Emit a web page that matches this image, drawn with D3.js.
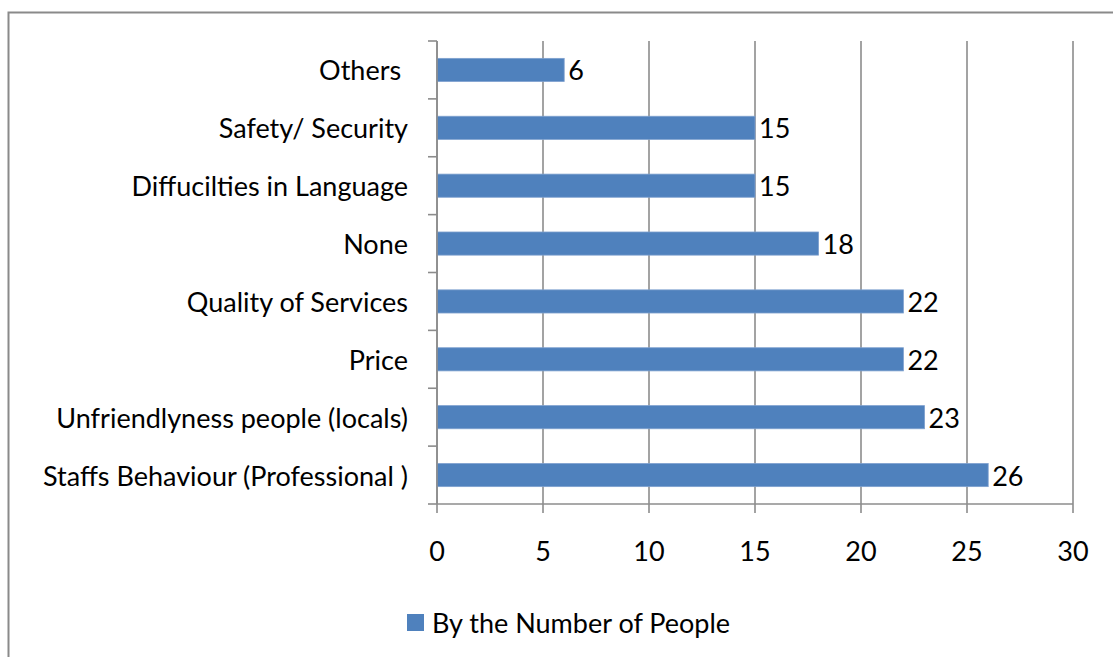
<!DOCTYPE html>
<html>
<head>
<meta charset="utf-8">
<script src="https://cdn.jsdelivr.net/npm/d3@7"></script>
<style>
  html, body { margin: 0; padding: 0; background: #fff; }
  svg { display: block; }
  text { font-family: Lato, "Open Sans", sans-serif; fill: #000; }
</style>
</head>
<body>
<svg id="chart" width="1113" height="657"></svg>
<script>
// Data (top to bottom as shown)
const categories = [
  "Others ",
  "Safety/ Security",
  "Diffucilties in Language",
  "None",
  "Quality of Services",
  "Price",
  "Unfriendlyness people (locals)",
  "Staffs Behaviour (Professional )"
];
const values = [6, 15, 15, 18, 22, 22, 23, 26];
const xTicks = [0, 5, 10, 15, 20, 25, 30];
const seriesName = "By the Number of People";

const svg = d3.select("#chart");
const W = 1113, H = 657;
const FS = 27;
const barColor = "#4F81BD";
const gridColor = "#8C8C8C";

// outer chart border (only top/left visible in the crop)
svg.append("rect")
  .attr("x", 8.5).attr("y", 12.5)
  .attr("width", W + 20).attr("height", H + 20)
  .attr("fill", "none").attr("stroke", "#8A8A8A").attr("stroke-width", 2);

const x = d3.scaleLinear().domain([0, 30]).range([437, 1073]);
const y = d3.scaleBand().domain(categories).range([41, 504])
  .paddingInner(0.6).paddingOuter(0.3);

const plotTop = 41, plotBottom = 504;

// vertical gridlines (+ tick extensions below axis)
svg.append("g").selectAll("line").data(xTicks).join("line")
  .attr("x1", d => x(d)).attr("x2", d => x(d))
  .attr("y1", plotTop).attr("y2", plotBottom + 9)
  .attr("stroke", gridColor).attr("stroke-width", 1.6);

// x axis line
svg.append("line")
  .attr("x1", x(0)).attr("x2", x(30))
  .attr("y1", plotBottom).attr("y2", plotBottom)
  .attr("stroke", gridColor).attr("stroke-width", 1.6);

// y axis tick marks at band boundaries
const boundaries = d3.range(categories.length + 1).map(i => plotTop + i * (plotBottom - plotTop) / categories.length);
svg.append("g").selectAll("line").data(boundaries).join("line")
  .attr("x1", x(0) - 9).attr("x2", x(0))
  .attr("y1", d => d).attr("y2", d => d)
  .attr("stroke", gridColor).attr("stroke-width", 1.6);

// bars
svg.append("g").selectAll("rect").data(values).join("rect")
  .attr("x", x(0))
  .attr("y", (d, i) => y(categories[i]))
  .attr("width", d => x(d) - x(0))
  .attr("height", y.bandwidth())
  .attr("fill", barColor)
  .attr("stroke", "#7FA1CF").attr("stroke-width", 0.8);

// y axis line (drawn over bars)
svg.append("line")
  .attr("x1", x(0)).attr("x2", x(0))
  .attr("y1", plotTop).attr("y2", plotBottom)
  .attr("stroke", gridColor).attr("stroke-width", 1.6);

// category labels
svg.append("g").selectAll("text").data(categories).join("text")
  .attr("x", 408)
  .attr("y", d => y(d) + y.bandwidth() / 2)
  .attr("text-anchor", "end")
  .attr("dominant-baseline", "central")
  .attr("font-size", FS)
  .style("white-space", "pre")
  .text(d => d);

// value labels
svg.append("g").selectAll("text").data(values).join("text")
  .attr("x", d => x(d) + 4)
  .attr("y", (d, i) => y(categories[i]) + y.bandwidth() / 2)
  .attr("dominant-baseline", "central")
  .attr("font-size", FS)
  .text(d => d);

// x tick labels
svg.append("g").selectAll("text").data(xTicks).join("text")
  .attr("x", d => x(d))
  .attr("y", 550)
  .attr("text-anchor", "middle")
  .attr("dominant-baseline", "central")
  .attr("font-size", FS)
  .text(d => d);

// legend
svg.append("rect")
  .attr("x", 407).attr("y", 614).attr("width", 17).attr("height", 17)
  .attr("fill", barColor);
svg.append("text")
  .attr("x", 432).attr("y", 622.5)
  .attr("dominant-baseline", "central")
  .attr("font-size", FS)
  .text(seriesName);
</script>
</body>
</html>
